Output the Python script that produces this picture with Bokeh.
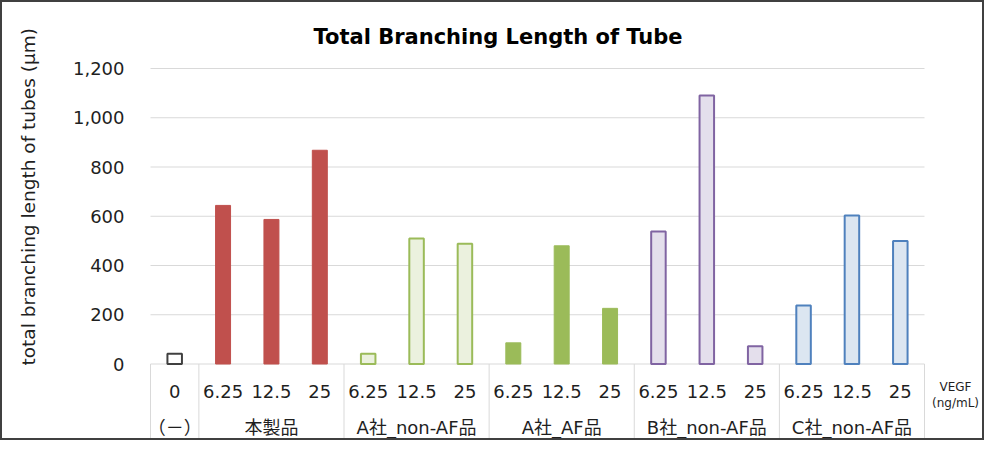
import numpy as np
from bokeh.plotting import figure
from bokeh.models import Range1d, FixedTicker, NumeralTickFormatter, Title
from bokeh.embed import file_html
from bokeh.resources import INLINE
from bokeh.core.properties import value

# ---------------- data ----------------
title_text = "Total Branching Length of Tube"
y_label_text = "total branching length of tubes (μm)"
unit_label_lines = ["VEGF", "(ng/mL)"]

group_names = ["（－）", "本製品", "A社_non-AF品", "A社_AF品", "B社_non-AF品", "C社_non-AF品"]
group_doses = [["0"], ["6.25", "12.5", "25"], ["6.25", "12.5", "25"],
               ["6.25", "12.5", "25"], ["6.25", "12.5", "25"], ["6.25", "12.5", "25"]]

neg_values = [42]
honsei_values = [644, 587, 868]
a_nonaf_values = [42, 510, 488]
a_af_values = [86, 480, 226]
b_nonaf_values = [538, 1090, 72]
c_nonaf_values = [238, 603, 500]
group_values = [neg_values, honsei_values, a_nonaf_values, a_af_values, b_nonaf_values, c_nonaf_values]

y_ticks = [0, 200, 400, 600, 800, 1000, 1200]

# ---------------- styles ----------------
group_fill = ["#FFFFFF", "#C0504D", "#EBF1DE", "#9BBB59", "#E4DFEC", "#DCE6F1"]
group_line = ["#404040", "#C0504D", "#9BBB59", "#9BBB59", "#8064A2", "#4F81BD"]
group_outlined = [True, False, True, False, True, True]

FONT = "DejaVu Sans, Noto Sans CJK JP"
TXT = "#1f1f1f"
GRID = "#D9D9D9"

B = 2                      # css border width (border-box); canvas starts at page (B, B)
W, H = 984, 440
PXU_X = 774 / 16           # pixels per category
PXU_Y = 295.5 / 1200       # pixels per unit
X0_REF, Y0_REF = 150, 363.5
FL, FT = 149 - B, 66 - B   # frame left / top in canvas px
FR, FB = W, H              # frame extends to canvas right / bottom

x_start = -(X0_REF - B - FL) / PXU_X
x_end = (FR - (X0_REF - B)) / PXU_X
y_end = ((Y0_REF - B) - FT) / PXU_Y
y_start = -(FB - (Y0_REF - B)) / PXU_Y

def xv(ref_px):
    return (ref_px - X0_REF) / PXU_X

def yv(ref_px):
    return (Y0_REF - ref_px) / PXU_Y

p = figure(width=W, height=H,
           x_range=Range1d(x_start, x_end), y_range=Range1d(y_start, y_end),
           x_axis_location=None, toolbar_location=None, output_backend="svg",
           min_border_left=FL, min_border_right=0, min_border_top=FT,
           min_border_bottom=0, title=title_text)
p.styles = {"border": f"{B}px solid #404040"}
p.outline_line_color = None
p.background_fill_color = "white"
p.border_fill_color = "white"

p.title.align = "left"
p.title.offset = 313 - 149
p.title.standoff = 36
p.title.text_font = FONT
p.title.text_font_size = "21px"
p.title.text_font_style = "bold"
p.title.text_color = "#000000"

yax = p.yaxis[0]
yax.ticker = FixedTicker(ticks=y_ticks)
yax.formatter = NumeralTickFormatter(format="0,0")
yax.axis_line_color = None
yax.major_tick_line_color = None
yax.minor_tick_line_color = None
yax.major_tick_out = 0
yax.major_tick_in = 0
yax.major_label_text_font = FONT
yax.major_label_text_font_size = "18px"
yax.major_label_text_color = TXT
yax.major_label_standoff = 25
p.ygrid.visible = False
p.xgrid.visible = False

# vertical axis title; the blank second line keeps it toward the outer edge
p.add_layout(Title(text=y_label_text + "\n\u00a0", align="left", offset=(H + B) - 365,
                   standoff=16, vertical_align="top",
                   text_font=FONT, text_font_size="18.5px", text_font_style="normal",
                   text_color=TXT), "left")

# horizontal grid lines across the category span
n_cat = sum(len(v) for v in group_values)
p.segment(x0=[0] * len(y_ticks), y0=y_ticks, x1=[n_cat] * len(y_ticks), y1=y_ticks,
          line_color=GRID, line_width=1)

# ---------------- bars ----------------
idx = 0
bounds = [0]
dose_x, dose_t, group_x = [], [], []
for g, (name, doses, vals) in enumerate(zip(group_names, group_doses, group_values)):
    xs = [idx + k + 0.5 for k in range(len(vals))]
    if group_outlined[g]:
        p.vbar(x=xs, top=vals, bottom=0, width=0.30, fill_color=group_fill[g],
               line_color=group_line[g], line_width=2)
    else:
        p.vbar(x=xs, top=vals, bottom=0, width=0.31, fill_color=group_fill[g],
               line_color=group_line[g], line_width=1)
    dose_x += xs
    dose_t += doses
    group_x.append(idx + len(vals) / 2)
    idx += len(vals)
    bounds.append(idx)

# separators in the category-label area
p.segment(x0=bounds, y0=[0] * len(bounds), x1=bounds, y1=[y_start] * len(bounds),
          line_color=GRID, line_width=1)

p.text(x=dose_x, y=[yv(391)] * len(dose_x), text=dose_t, text_align="center",
       text_baseline="middle", text_font=value(FONT), text_font_size="18px",
       text_color=TXT)
p.text(x=group_x, y=[yv(427)] * len(group_x), text=group_names, text_align="center",
       text_baseline="middle", text_font=value(FONT), text_font_size="18px",
       text_color=TXT)

# unit label at the right of the category axis
p.text(x=[xv(955)] * 2, y=[yv(386), yv(402)], text=unit_label_lines,
       text_align="center", text_baseline="middle", text_font=value(FONT),
       text_font_size="12px", text_color=TXT)

open("out.html", "w").write(file_html(p, INLINE))
